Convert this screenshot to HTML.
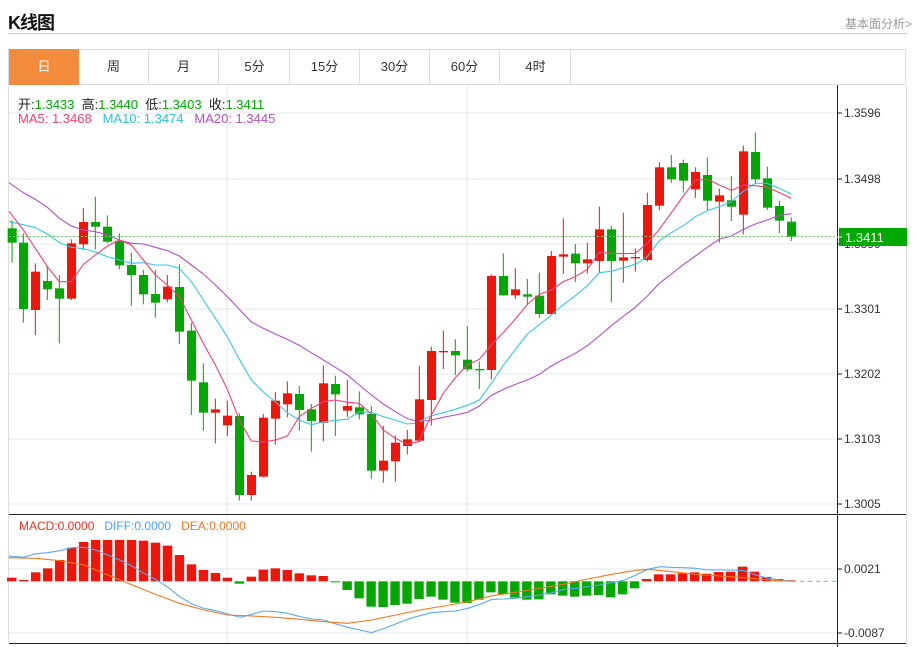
<!DOCTYPE html>
<html><head><meta charset="utf-8"><style>
body{margin:0;background:#fff;width:916px;height:647px;overflow:hidden;position:relative;font-family:"Liberation Sans","Noto Sans CJK SC",sans-serif}
.t{position:absolute;white-space:nowrap}
.tab{position:absolute;top:49px;height:36px;width:70px;line-height:36px;text-align:center;font-size:13px;color:#333;border-right:1px solid #ddd;box-sizing:border-box}
</style></head><body>
<div class="t" style="left:8px;top:9px;font-size:18px;font-weight:bold;color:#111;letter-spacing:-1px">K线图</div>
<div class="t" style="left:845px;top:15px;font-size:12px;color:#999">基本面分析&gt;</div>
<div style="position:absolute;left:8px;top:33px;width:899px;height:1px;background:#ccc"></div>
<div style="position:absolute;left:8px;top:49px;width:898px;height:36px;border:1px solid #ddd;box-sizing:border-box"></div>
<div class="tab" style="left:9px;background:#f28c3c;color:#fff;border:none">日</div>
<div class="tab" style="left:79px">周</div>
<div class="tab" style="left:149px">月</div>
<div class="tab" style="left:220px">5分</div>
<div class="tab" style="left:290px">15分</div>
<div class="tab" style="left:360px">30分</div>
<div class="tab" style="left:430px">60分</div>
<div class="tab" style="left:501px">4时</div>
<svg id="s" style="position:absolute;left:0;top:0" width="916" height="647"></svg>
<div class="t" style="left:18px;top:94px;font-size:13px;color:#222">开:<span style="color:#0a0">1.3433</span>&nbsp;&nbsp;高:<span style="color:#0a0">1.3440</span>&nbsp;&nbsp;低:<span style="color:#0a0">1.3403</span>&nbsp;&nbsp;收:<span style="color:#0a0">1.3411</span></div>
<div class="t" style="left:18px;top:111px;font-size:13px"><span style="color:#f0407a">MA5: 1.3468</span>&nbsp;&nbsp;&nbsp;<span style="color:#2bc0d8">MA10: 1.3474</span>&nbsp;&nbsp;&nbsp;<span style="color:#b050c0">MA20: 1.3445</span></div>
<div class="t" style="left:19px;top:519px;font-size:12px"><span style="color:#f03020">MACD:0.0000</span>&nbsp;&nbsp;&nbsp;<span style="color:#4aa0f0">DIFF:0.0000</span>&nbsp;&nbsp;&nbsp;<span style="color:#f07820">DEA:0.0000</span></div>
<script>
var S=document.getElementById('s'),h='';
var R='#f01508',G='#00a800';
// grid
[113,179,244,309,374,439,504].forEach(function(y){h+='<line x1="9" x2="837" y1="'+y+'" y2="'+y+'" stroke="#e3e9ef"/>';});
[227,467].forEach(function(x){h+='<line x1="'+x+'" x2="'+x+'" y1="85" y2="643" stroke="#e3e9ef"/>';});
h+='<line x1="9" x2="837" y1="569" y2="569" stroke="#e3e9ef"/><line x1="9" x2="837" y1="633" y2="633" stroke="#e3e9ef"/>';
h+='<line x1="8.5" x2="8.5" y1="85" y2="643" stroke="#ddd"/><line x1="906.5" x2="906.5" y1="85" y2="647" stroke="#ddd"/>';
function cand(arr){var o='';arr.forEach(function(c){var col=c[1]=='R'?R:G;
o+='<line x1="'+c[0]+'" x2="'+c[0]+'" y1="'+c[4]+'" y2="'+c[5]+'" stroke="'+col+'" stroke-width="3"/>';
var bh=Math.max(c[3]-c[2],4);o+='<rect x="'+(c[0]-13)+'" y="'+c[2]+'" width="27" height="'+bh+'" fill="'+col+'"/>';});return o;}
function pl(p,col){return '<polyline fill="none" stroke="'+col+'" stroke-width="1.1" vector-effect="non-scaling-stroke" points="'+p.map(function(a){return a.join(',')}).join(' ')+'"/>';}
var L=[[36,'G',295,338,270,398],[70,'G',338,537,310,578],[106,'R',425,540,400,615],[142,'G',453,478,408,510],[178,'G',475,506,435,640],[214,'R',340,506,328,510],[250,'R',276,343,234,360],[286,'G',276,290,200,358],[322,'G',290,335,256,340],[358,'G',333,406,310,418],[394,'G',405,435,368,527],[430,'G',435,493,420,523],[466,'G',492,518,420,563],[502,'R',470,508,435,517],[538,'G',471,605,403,642],[574,'G',602,752,578,855],[610,'G',757,848,700,902],[646,'R',838,848,806,940],[682,'R',857,886,812,918],[718,'G',858,1095,850,1112],[754,'R',1035,1095,1025,1112],[790,'R',863,1040,852,1042],[826,'R',812,866,786,944],[862,'R',790,823,754,862],[898,'G',792,840,768,902],[934,'G',838,873,822,965],[970,'R',760,878,706,934],[1006,'G',762,793,737,918],[1042,'R',828,842,750,862],[1078,'G',832,853,784,868],[1114,'G',852,1022,828,1046],[1150,'R',992,1022,888,1058],[1186,'R',938,994,916,1055],[1222,'R',928,948,900,973]];
var Rt=[[-2,'R',808,932,708,935],[34,'R',663,810,650,887],[70,'R',663,667,602,717],[106,'G',663,676,628,735],[142,'G',689,718,588,725],[178,'G',717,719,695,777],[214,'R',438,720,433,748],[250,'G',438,496,370,497],[286,'R',478,496,415,507],[322,'G',493,500,447,525],[358,'G',497,552,428,563],[394,'R',378,552,363,556],[430,'R',373,380,265,432],[466,'G',371,400,342,456],[502,'R',388,400,338,430],[538,'R',298,393,230,428],[574,'G',298,393,288,517],[610,'R',382,392,248,458],[646,'R',381,385,355,425],[682,'R',225,390,188,395],[718,'R',112,227,97,240],[754,'G',112,148,75,158],[790,'G',99,152,89,188],[826,'R',126,178,112,204],[862,'G',135,212,82,242],[898,'R',196,215,176,338],[934,'G',211,230,138,273],[970,'R',64,254,47,313],[1006,'G',66,148,8,160],[1042,'G',145,233,110,240],[1078,'G',228,272,212,310],[1114,'G',275,320,262,333]];
var L20=[[27,158],[70,188],[106,208],[142,232],[178,265],[214,288],[250,300],[286,305],[322,315],[358,330],[394,340],[430,342],[466,352],[502,362],[538,378],[574,405],[610,432],[646,465],[682,500],[718,538],[754,576],[790,595],[826,612],[862,628],[898,646],[934,668],[970,690],[1006,712],[1042,735],[1078,765],[1114,795],[1150,822],[1186,845],[1222,866],[1262,876]];
var R20=[[-2,875],[34,870],[70,862],[106,855],[142,847],[178,828],[214,796],[250,778],[286,763],[322,750],[358,733],[394,708],[430,688],[466,670],[502,647],[538,618],[574,587],[610,559],[646,532],[682,498],[718,460],[754,432],[790,404],[826,378],[862,352],[898,327],[934,318],[970,298],[1006,282],[1042,270],[1078,256],[1114,251]];
var L10=[[27,275],[70,284],[106,293],[142,312],[178,338],[214,352],[250,356],[286,366],[322,380],[358,390],[394,400],[430,398],[466,405],[502,405],[538,415],[574,455],[610,510],[646,565],[682,620],[718,688],[754,750],[790,786],[826,816],[862,848],[898,870],[934,884],[970,876],[1006,871],[1042,868],[1078,845],[1114,847],[1150,860],[1186,870],[1222,882],[1262,878]];
var R10=[[-2,875],[34,857],[70,848],[106,838],[142,826],[178,810],[214,760],[250,706],[286,658],[322,612],[358,584],[394,555],[430,524],[466,497],[502,467],[538,428],[574,424],[610,413],[646,403],[682,380],[718,332],[754,308],[790,287],[826,260],[862,242],[898,230],[934,215],[970,184],[1006,160],[1042,160],[1078,175],[1114,192]];
var L5=[[27,244],[70,300],[106,355],[142,410],[178,455],[214,455],[250,403],[286,375],[322,348],[358,330],[394,345],[430,390],[466,435],[502,465],[538,500],[574,570],[610,640],[646,705],[682,778],[718,870],[754,933],[790,936],[826,930],[862,918],[898,860],[934,835],[970,815],[1006,810],[1042,817],[1078,820],[1114,852],[1150,900],[1186,925],[1222,942],[1262,934]];
var R5=[[-2,932],[34,855],[70,790],[106,743],[142,705],[178,688],[214,645],[250,608],[286,567],[322,523],[358,493],[394,480],[430,455],[466,440],[502,418],[538,367],[574,370],[610,371],[646,370],[682,340],[718,298],[754,248],[790,198],[826,150],[862,148],[898,165],[934,181],[970,165],[1006,167],[1042,172],[1078,188],[1114,205]];
h+='<g transform="translate(0,130) scale(0.33333)">'+cand(L)+pl(L20,'#b050c8')+pl(L10,'#38c8e0')+pl(L5,'#f0407a')+'</g>';
h+='<g transform="translate(420,130) scale(0.33333)">'+cand(Rt)+pl(R20,'#b050c8')+pl(R10,'#38c8e0')+pl(R5,'#f0407a')+'</g>';
h+='<line x1="9" x2="837" y1="236.5" y2="236.5" stroke="#6c6" stroke-dasharray="2,2"/>';
// MACD
var mv=[218,225,202,190,165,128,111,105,105,105,105,107,113,122,150,178,195,204,218,236,215,194,190,195,205,211,213,232,255,280,305,306,300,296,282,275,284,293,294,284,262,268,278,284,283,268,272,275,272,270,277,268,250,222,208,208,205,202,206,201,200,185,200,216,222,226];
var m='<g transform="translate(0,505) scale(0.58719,0.33333)">';
mv.forEach(function(v,i){var x=20+i*20.4;var z=229;if(i==19||(i>=27&&i<=52)){m+='<rect x="'+(x-8)+'" y="'+z+'" width="16" height="'+Math.max(v-z,3)+'" fill="'+G+'"/>';}else{var t=Math.min(v,z-3);m+='<rect x="'+(x-8)+'" y="'+t+'" width="16" height="'+(z-t)+'" fill="'+R+'"/>';}});
var DF=[[15,153],[40,157],[61,146],[81,143],[102,137],[122,128],[143,127],[163,135],[184,150],[204,165],[225,183],[245,205],[265,223],[286,247],[306,275],[327,297],[347,310],[368,317],[388,327],[409,337],[429,328],[449,318],[470,320],[490,325],[511,335],[531,342],[552,345],[572,357],[592,367],[613,375],[633,383],[654,370],[674,357],[695,342],[715,332],[735,323],[756,320],[776,318],[797,310],[817,298],[838,283],[858,282],[878,280],[899,275],[919,270],[940,263],[960,253],[981,250],[1001,245],[1021,240],[1042,233],[1062,226],[1083,210],[1103,193],[1124,185],[1144,187],[1165,188],[1185,190],[1205,195],[1226,195],[1246,195],[1267,197],[1287,210],[1308,220],[1328,225],[1349,228]];
var DE=[[15,158],[61,160],[102,167],[143,180],[184,210],[225,240],[265,268],[306,295],[347,315],[388,330],[429,333],[470,337],[511,343],[552,350],[592,355],[633,345],[674,330],[715,315],[756,303],[797,290],[838,272],[878,262],[919,250],[960,238],[1001,222],[1042,208],[1083,196],[1103,193],[1144,200],[1185,208],[1226,213],[1267,218],[1308,225],[1349,229]];
m+=pl(DF,'#5aaaf0')+pl(DE,'#f07820');
m+='<line x1="1349" x2="1425" y1="229" y2="229" stroke="#5ab8f0" stroke-dasharray="4,4" vector-effect="non-scaling-stroke"/></g>';
h+=m;
// axes
h+='<line x1="837.5" x2="837.5" y1="85" y2="647" stroke="#222"/>';
h+='<line x1="9" x2="906" y1="514.5" y2="514.5" stroke="#222"/><line x1="9" x2="906" y1="643.5" y2="643.5" stroke="#222"/>';
[[113,'1.3596'],[179,'1.3498'],[244,'1.3399'],[309,'1.3301'],[374,'1.3202'],[439,'1.3103'],[504,'1.3005'],[569,'0.0021'],[633,'-0.0087']].forEach(function(a){
h+='<line x1="837" x2="842" y1="'+a[0]+'" y2="'+a[0]+'" stroke="#222"/><text x="844" y="'+(a[0]+4)+'" font-size="12" fill="#333" font-family="Liberation Sans,sans-serif">'+a[1]+'</text>';});
h+='<rect x="839" y="228" width="68" height="18" fill="#00a800"/><line x1="837" x2="842" y1="237" y2="237" stroke="#fff"/><text x="845" y="242" font-size="13" fill="#fff" font-family="Liberation Sans,sans-serif">1.3411</text>';
S.innerHTML=h;
</script>
</body></html>
